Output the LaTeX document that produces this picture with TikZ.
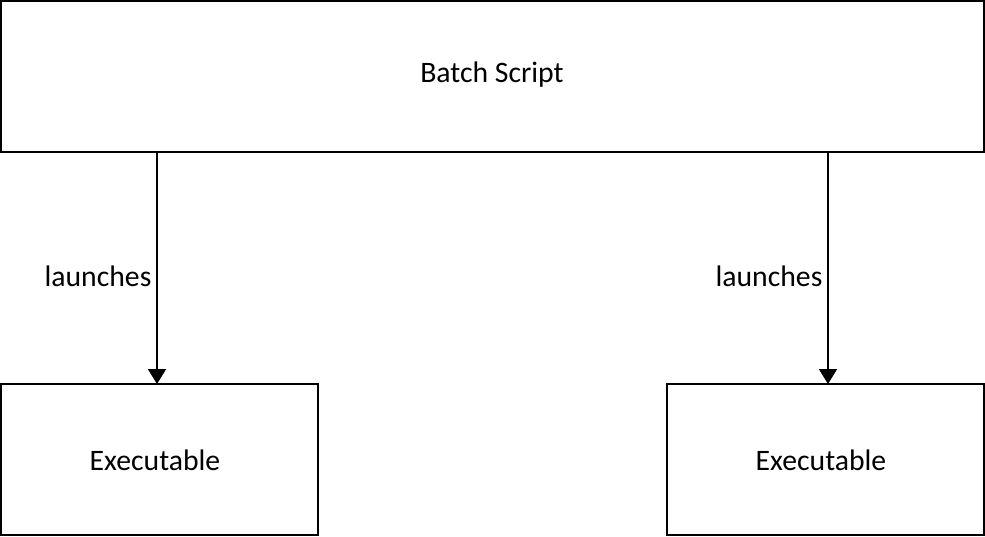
\documentclass[tikz,border=0pt]{standalone}
\usepackage{fontspec}
\setmainfont{Carlito}
\usetikzlibrary{arrows.meta}
\begin{document}
\begin{tikzpicture}[x=1pt,y=-1pt,
  boxstyle/.style={draw=black,line width=2pt,fill=white,inner sep=0pt},
  arrowstyle/.style={draw=black,line width=2pt,-{Triangle[length=15pt,width=18pt]}},
  lbl/.style={font=\fontsize{29.7}{35}\selectfont,inner sep=0pt}]
\useasboundingbox (0,0) rectangle (985,536);
\node[boxstyle,minimum width=983pt,minimum height=151pt] (batch) at (492.5,76.5) {};
\node[lbl] (batchtxt) at (492,75) {Batch Script};
\node[boxstyle,minimum width=317pt,minimum height=151pt] (exe1) at (159.5,459.5) {};
\node[lbl] (exe1txt) at (155,460) {Executable};
\node[boxstyle,minimum width=317pt,minimum height=151pt] (exe2) at (825.5,459.5) {};
\node[lbl] (exe2txt) at (821,460) {Executable};
\coordinate (a1s) at (157,152);
\coordinate (a1e) at (157,384);
\coordinate (a2s) at (828,152);
\coordinate (a2e) at (828,384);
\draw[arrowstyle] (a1s) -- (a1e);
\draw[arrowstyle] (a2s) -- (a2e);
\node[lbl] (l1) at (98,276) {launches};
\node[lbl] (l2) at (769,276) {launches};
\end{tikzpicture}
\end{document}
